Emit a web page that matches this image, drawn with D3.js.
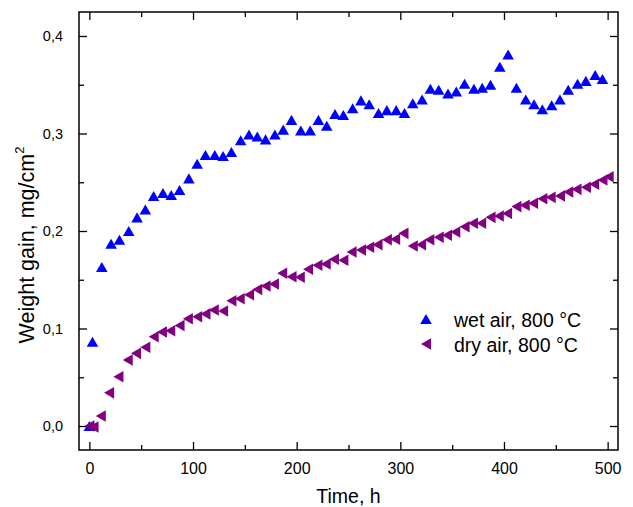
<!DOCTYPE html>
<html>
<head>
<meta charset="utf-8">
<script src="https://cdn.jsdelivr.net/npm/d3@7"></script>
<style>
  body { margin: 0; background: #fff; }
  svg { font-family: Arial, "Liberation Sans", sans-serif; }
</style>
</head>
<body>
<svg id="chart" width="633" height="507"></svg>
<script>
// ---------------------------  DATA  ---------------------------
const wetTime = [0, 3, 12, 21, 29, 38, 46, 54, 62, 71, 79, 87, 96, 104, 112, 121, 129, 137, 146, 154,
                 162, 170, 179, 187, 195, 204, 213, 221, 229, 237, 245, 254, 262, 270, 279, 287, 296, 304, 312, 321,
                 329, 337, 346, 354, 362, 371, 379, 387, 396, 404, 412, 421, 429, 437, 446, 454, 462, 471, 479, 488, 495];
const wetGain = [0, 0.0865, 0.163, 0.187, 0.191, 0.200, 0.214, 0.222, 0.236, 0.239, 0.237, 0.242, 0.254, 0.269, 0.278, 0.278, 0.277, 0.281, 0.293, 0.299,
                 0.297, 0.294, 0.299, 0.304, 0.314, 0.303, 0.303, 0.314, 0.308, 0.320, 0.319, 0.326, 0.334, 0.330, 0.321, 0.324, 0.324, 0.321, 0.331, 0.335,
                 0.346, 0.345, 0.341, 0.343, 0.351, 0.346, 0.347, 0.350, 0.3685, 0.381, 0.347, 0.335, 0.330, 0.325, 0.329, 0.335, 0.345, 0.351, 0.354, 0.360, 0.356];

const dryTime = [0, 4, 11, 19, 28, 37, 45, 54, 62, 70, 78, 87, 95, 104, 112, 120, 129, 137, 145, 154,
                 162, 170, 178, 186, 195, 203, 211, 220, 228, 236, 245, 253, 262, 270, 278, 287, 295, 303, 312, 320,
                 328, 337, 345, 353, 362, 370, 378, 387, 395, 403, 412, 420, 428, 437, 445, 454, 462, 470, 479, 487, 495, 501];
const dryGain = [0, -0.001, 0.0103, 0.034, 0.0506, 0.0677, 0.0745, 0.0807, 0.0916, 0.0964, 0.0977, 0.103, 0.110, 0.112, 0.115, 0.119, 0.118, 0.1285, 0.1306, 0.1347,
                 0.140, 0.1436, 0.1456, 0.1566, 0.1531, 0.1525, 0.1607, 0.1648, 0.1662, 0.171, 0.170, 0.1785, 0.1805, 0.1833, 0.186, 0.191, 0.1915, 0.1976, 0.1846, 0.186,
                 0.191, 0.1935, 0.1956, 0.199, 0.2044, 0.2079, 0.2079, 0.214, 0.2154, 0.218, 0.225, 0.2264, 0.2284, 0.2331, 0.2345, 0.236, 0.240, 0.2427, 0.2448, 0.248, 0.2523, 0.2557];

const xTicks = [0, 100, 200, 300, 400, 500];
const xMinorTicks = [50, 150, 250, 350, 450];
const yTicks = [0, 0.1, 0.2, 0.3, 0.4];
const yMinorTicks = [0.05, 0.15, 0.25, 0.35];

const seriesNames = ["wet air, 800 °C", "dry air, 800 °C"];

// ---------------------------  LAYOUT  ---------------------------
const W = 633, H = 507;
const margin = { left: 79, top: 12, right: 15, bottom: 57 };
const width = W - margin.left - margin.right;
const height = H - margin.top - margin.bottom;

const svg = d3.select("#chart");
const g = svg.append("g").attr("transform", `translate(${margin.left},${margin.top})`);

const x = d3.scaleLinear().domain([-10, 510]).range([0, width]);
const y = d3.scaleLinear().domain([-0.0246, 0.4246]).range([height, 0]);

// decimal comma, as in the original
const commaFmt = d3.formatLocale({ decimal: ",", thousands: ".", grouping: [3], currency: ["", ""] }).format(".1f");

// ---------------------------  AXES (ticks inward, mirrored on all sides)  ---------------------------
function styleAxis(sel) {
    sel.select(".domain").remove();
    sel.selectAll(".tick line").attr("stroke", "#000").attr("stroke-width", 1.3);
}

// bottom
g.append("g").attr("transform", `translate(0,${height})`)
    .call(d3.axisBottom(x).tickValues(xTicks).tickSize(-8).tickPadding(13).tickFormat(d3.format("d")))
    .call(styleAxis)
    .call(s => s.selectAll("text").attr("font-size", 16).attr("fill", "#000"));
g.append("g").attr("transform", `translate(0,${height})`)
    .call(d3.axisBottom(x).tickValues(xMinorTicks).tickSize(-5).tickFormat(""))
    .call(styleAxis);

// top
g.append("g")
    .call(d3.axisTop(x).tickValues(xTicks).tickSize(-8).tickFormat(""))
    .call(styleAxis);
g.append("g")
    .call(d3.axisTop(x).tickValues(xMinorTicks).tickSize(-5).tickFormat(""))
    .call(styleAxis);

// left
g.append("g")
    .call(d3.axisLeft(y).tickValues(yTicks).tickSize(-8).tickPadding(16).tickFormat(commaFmt))
    .call(styleAxis)
    .call(s => s.selectAll("text").attr("font-size", 14.5).attr("fill", "#000"));
g.append("g")
    .call(d3.axisLeft(y).tickValues(yMinorTicks).tickSize(-5).tickFormat(""))
    .call(styleAxis);

// right
g.append("g").attr("transform", `translate(${width},0)`)
    .call(d3.axisRight(y).tickValues(yTicks).tickSize(-8).tickFormat(""))
    .call(styleAxis);
g.append("g").attr("transform", `translate(${width},0)`)
    .call(d3.axisRight(y).tickValues(yMinorTicks).tickSize(-5).tickFormat(""))
    .call(styleAxis);

// frame
g.append("rect")
    .attr("width", width).attr("height", height)
    .attr("fill", "none").attr("stroke", "#000").attr("stroke-width", 1.5);

// ---------------------------  MARKERS  ---------------------------
// d3 centres the triangle on its centroid; the values were read at the middle
// of each marker's box, so nudge by the difference (1/6 of the triangle height)
const triangle = d3.symbol().type(d3.symbolTriangle).size(58)();
const nudge = 1.7;

const wetData = wetTime.map((t, i) => ({ t: t, v: wetGain[i] }));
const dryData = dryTime.map((t, i) => ({ t: t, v: dryGain[i] }));

// wet air: blue up-triangles (drawn first, dry air goes on top)
g.append("g").selectAll("path")
    .data(wetData)
    .join("path")
    .attr("d", triangle)
    .attr("transform", d => `translate(${x(d.t)},${y(d.v) + nudge})`)
    .attr("fill", "#0000ff");

// dry air: purple left-pointing triangles
g.append("g").selectAll("path")
    .data(dryData)
    .join("path")
    .attr("d", triangle)
    .attr("transform", d => `translate(${x(d.t) + nudge},${y(d.v)}) rotate(-90)`)
    .attr("fill", "#800080");

// ---------------------------  LEGEND  ---------------------------
const legend = svg.append("g").attr("transform", "translate(426,319)");
legend.append("path").attr("d", triangle)
    .attr("transform", `translate(0,${nudge})`).attr("fill", "#0000ff");
legend.append("path").attr("d", triangle)
    .attr("transform", `translate(${nudge},25) rotate(-90)`).attr("fill", "#800080");
legend.selectAll("text")
    .data(seriesNames)
    .join("text")
    .attr("x", 28)
    .attr("y", (d, i) => 8 + i * 24.5)
    .attr("font-size", 19.5)
    .attr("fill", "#000")
    .text(d => d);

// ---------------------------  AXIS TITLES  ---------------------------
svg.append("text")
    .attr("x", margin.left + x(250))
    .attr("y", 503)
    .attr("text-anchor", "middle")
    .attr("font-size", 19.5)
    .text("Time, h");

const yTitle = svg.append("text")
    .attr("transform", "translate(34,245) rotate(-90)")
    .attr("text-anchor", "middle")
    .attr("font-size", 21.5);
yTitle.append("tspan").text("Weight gain, mg/cm");
yTitle.append("tspan").attr("font-size", 13).attr("dy", -10).text("2");
</script>
</body>
</html>
